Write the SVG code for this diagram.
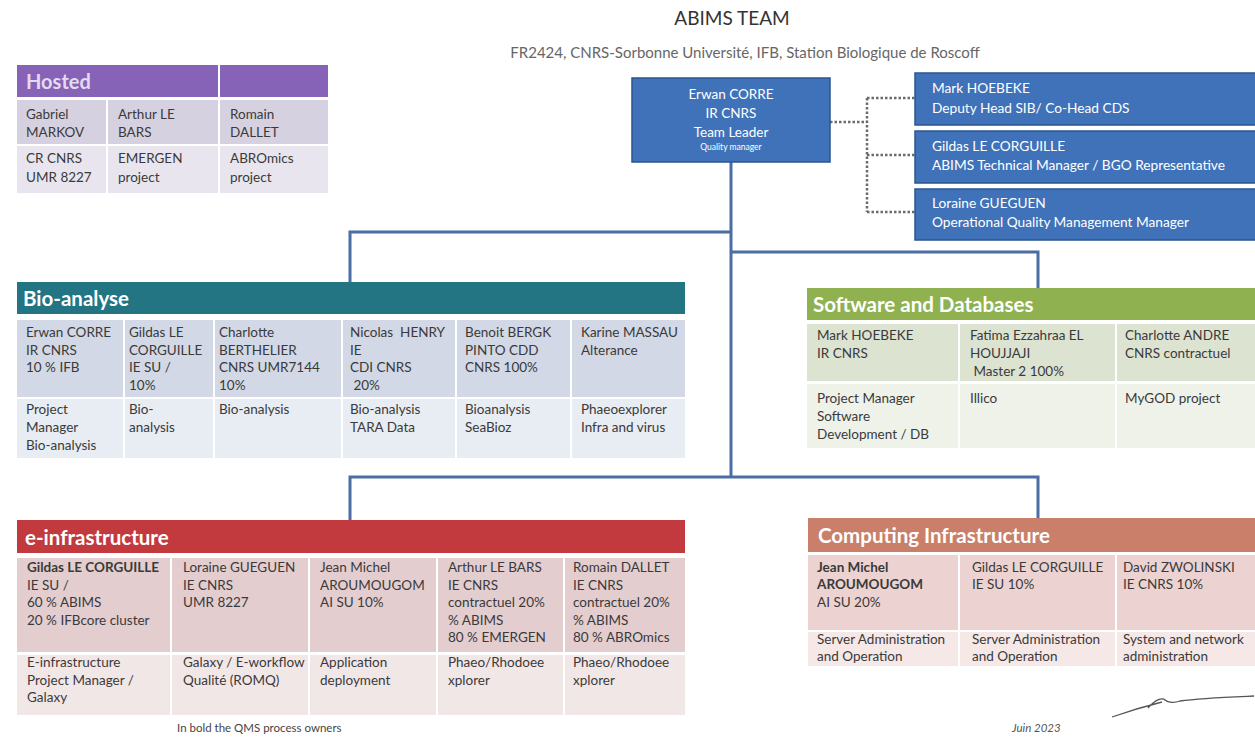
<svg xmlns="http://www.w3.org/2000/svg" width="1255" height="737" viewBox="0 0 1255 737">
<style>
text{font-family:Lato,"Liberation Sans",sans-serif;fill:#3a3a3a;font-size:13.5px}
.b{font-weight:bold}
.hd{font-weight:bold;font-size:20.5px;fill:#ffffff}
.bx{fill:#ffffff;font-size:13.7px}
.box{fill:#3f72b8;stroke:#2b5590;stroke-width:1.5}
.conn{fill:none;stroke:#4a6da6;stroke-width:3}
.dot{fill:none;stroke:#6b6b6b;stroke-width:2.5;stroke-dasharray:2.5 2}
.hr1{fill:#d6d1e0}.hr2{fill:#e9e5ef}
.br1{fill:#d2d8e5}.br2{fill:#e8ecf3}
.sr1{fill:#dce3d1}.sr2{fill:#eef2e9}
.er1{fill:#e4cdcf}.er2{fill:#f2e7e7}
.cr1{fill:#ecd3d1}.cr2{fill:#f5e8e7}
</style>

<g id="title">
<text x="732" y="25" text-anchor="middle" style="font-size:19px;fill:#333">ABIMS TEAM</text>
<text x="745" y="58" text-anchor="middle" style="font-size:15px;fill:#666">FR2424, CNRS-Sorbonne Université, IFB, Station Biologique de Roscoff</text>
</g>

<g id="connectors">
<path class="conn" d="M731 162 V477"/>
<path class="conn" d="M350 282 V232 H731"/>
<path class="conn" d="M731 252 H1038 V288"/>
<path class="conn" d="M350 520 V477 H1038 V518"/>
<path class="dot" d="M830 122 H867"/>
<path class="dot" d="M867 98 V212"/>
<path class="dot" d="M867 98 H915 M867 155 H915 M867 212 H915"/>
</g>

<g id="erwan">
<rect class="box" x="632" y="78" width="198" height="84"/>
<text class="bx" x="731" y="99" text-anchor="middle" style="font-size:13.5px">Erwan CORRE</text>
<text class="bx" x="731" y="118" text-anchor="middle" style="font-size:13.5px">IR CNRS</text>
<text class="bx" x="731" y="137" text-anchor="middle" style="font-size:13.5px">Team Leader</text>
<text class="bx" x="731" y="150" text-anchor="middle" style="font-size:8.5px">Quality manager</text>
</g>

<g id="mark">
<rect class="box" x="915" y="73" width="345" height="52"/>
<text class="bx" x="932" y="93">Mark HOEBEKE</text>
<text class="bx" x="932" y="113">Deputy Head SIB/ Co-Head CDS</text>
</g>
<g id="gildas-top">
<rect class="box" x="915" y="131" width="345" height="52"/>
<text class="bx" x="932" y="151">Gildas LE CORGUILLE</text>
<text class="bx" x="932" y="170">ABIMS Technical Manager / BGO Representative</text>
</g>
<g id="loraine-top">
<rect class="box" x="915" y="189" width="345" height="51"/>
<text class="bx" x="932" y="208">Loraine GUEGUEN</text>
<text class="bx" x="932" y="227">Operational Quality Management Manager</text>
</g>

<g id="hosted">
<rect x="17" y="65" width="201" height="32" fill="#8663b6"/>
<rect x="220" y="65" width="108" height="32" fill="#8663b6"/>
<text class="hd" x="26" y="89" style="fill:#e3dbef;font-size:20px">Hosted</text>
<rect class="hr1" x="17" y="100" width="89" height="44"/>
<rect class="hr1" x="108" y="100" width="110" height="44"/>
<rect class="hr1" x="220" y="100" width="108" height="44"/>
<rect class="hr2" x="17" y="146" width="89" height="47"/>
<rect class="hr2" x="108" y="146" width="110" height="47"/>
<rect class="hr2" x="220" y="146" width="108" height="47"/>
<text x="26" y="119">Gabriel</text><text x="26" y="137">MARKOV</text>
<text x="26" y="163">CR CNRS</text><text x="26" y="182">UMR 8227</text>
<text x="118" y="119">Arthur LE</text><text x="118" y="137">BARS</text>
<text x="118" y="163">EMERGEN</text><text x="118" y="182">project</text>
<text x="230" y="119">Romain</text><text x="230" y="137">DALLET</text>
<text x="230" y="163">ABROmics</text><text x="230" y="182">project</text>
</g>

<g id="bio-analyse">
<rect x="17" y="282" width="668" height="32" fill="#237583"/>
<text class="hd" x="23" y="306">Bio-analyse</text>
<rect class="br1" x="17" y="320" width="106" height="77"/>
<rect class="br1" x="125" y="320" width="88" height="77"/>
<rect class="br1" x="215" y="320" width="126" height="77"/>
<rect class="br1" x="343" y="320" width="112" height="77"/>
<rect class="br1" x="457" y="320" width="113" height="77"/>
<rect class="br1" x="572" y="320" width="113" height="77"/>
<rect class="br2" x="17" y="399" width="106" height="59"/>
<rect class="br2" x="125" y="399" width="88" height="59"/>
<rect class="br2" x="215" y="399" width="126" height="59"/>
<rect class="br2" x="343" y="399" width="112" height="59"/>
<rect class="br2" x="457" y="399" width="113" height="59"/>
<rect class="br2" x="572" y="399" width="113" height="59"/>
<text x="26" y="337">Erwan CORRE</text><text x="26" y="354.5">IR CNRS</text><text x="26" y="372">10 % IFB</text>
<text x="26" y="414">Project</text><text x="26" y="432">Manager</text><text x="26" y="450">Bio-analysis</text>
<text x="129" y="337">Gildas LE</text><text x="129" y="354.5">CORGUILLE</text><text x="129" y="372">IE SU /</text><text x="129" y="389.5">10%</text>
<text x="129" y="414">Bio-</text><text x="129" y="432">analysis</text>
<text x="219" y="337">Charlotte</text><text x="219" y="354.5">BERTHELIER</text><text x="219" y="372">CNRS UMR7144</text><text x="219" y="389.5">10%</text>
<text x="219" y="414">Bio-analysis</text>
<text x="350" y="337" xml:space="preserve">Nicolas  HENRY</text><text x="350" y="354.5">IE</text><text x="350" y="372">CDI CNRS</text><text x="350" y="389.5" xml:space="preserve"> 20%</text>
<text x="350" y="414">Bio-analysis</text><text x="350" y="432">TARA Data</text>
<text x="465" y="337">Benoit BERGK</text><text x="465" y="354.5">PINTO CDD</text><text x="465" y="372">CNRS 100%</text>
<text x="465" y="414">Bioanalysis</text><text x="465" y="432">SeaBioz</text>
<text x="581" y="337">Karine MASSAU</text><text x="581" y="354.5">Alterance</text>
<text x="581" y="414">Phaeoexplorer</text><text x="581" y="432">Infra and virus</text>
</g>

<g id="software">
<rect x="807" y="288" width="448" height="32" fill="#8fb14f"/>
<text class="hd" x="813" y="312">Software and Databases</text>
<rect class="sr1" x="807" y="324" width="151" height="57"/>
<rect class="sr1" x="960" y="324" width="155" height="57"/>
<rect class="sr1" x="1117" y="324" width="138" height="57"/>
<rect class="sr2" x="807" y="384" width="151" height="64"/>
<rect class="sr2" x="960" y="384" width="155" height="64"/>
<rect class="sr2" x="1117" y="384" width="138" height="64"/>
<text x="817" y="340">Mark HOEBEKE</text><text x="817" y="358">IR CNRS</text>
<text x="817" y="403">Project Manager</text><text x="817" y="421">Software</text><text x="817" y="439">Development / DB</text>
<text x="970" y="340">Fatima Ezzahraa EL</text><text x="970" y="358">HOUJJAJI</text><text x="970" y="376" xml:space="preserve"> Master 2 100%</text>
<text x="970" y="403">Illico</text>
<text x="1125" y="340">Charlotte ANDRE</text><text x="1125" y="358">CNRS contractuel</text>
<text x="1125" y="403">MyGOD project</text>
</g>

<g id="e-infrastructure">
<rect x="17" y="520" width="668" height="33" fill="#c23a3d"/>
<text class="hd" x="25" y="545">e-infrastructure</text>
<rect class="er1" x="17" y="558" width="153" height="94"/>
<rect class="er1" x="172" y="558" width="136" height="94"/>
<rect class="er1" x="310" y="558" width="126" height="94"/>
<rect class="er1" x="438" y="558" width="125" height="94"/>
<rect class="er1" x="565" y="558" width="120" height="94"/>
<rect class="er2" x="17" y="655" width="153" height="60"/>
<rect class="er2" x="172" y="655" width="136" height="60"/>
<rect class="er2" x="310" y="655" width="126" height="60"/>
<rect class="er2" x="438" y="655" width="125" height="60"/>
<rect class="er2" x="565" y="655" width="120" height="60"/>
<text class="b" x="27" y="572">Gildas LE CORGUILLE</text><text x="27" y="589.5">IE SU /</text><text x="27" y="607">60 % ABIMS</text><text x="27" y="624.5">20 % IFBcore cluster</text>
<text x="27" y="667">E-infrastructure</text><text x="27" y="684.5">Project Manager /</text><text x="27" y="702">Galaxy</text>
<text x="183" y="572">Loraine GUEGUEN</text><text x="183" y="589.5">IE CNRS</text><text x="183" y="607">UMR 8227</text>
<text x="183" y="667">Galaxy / E-workflow</text><text x="183" y="684.5">Qualité (ROMQ)</text>
<text x="320" y="572">Jean Michel</text><text x="320" y="589.5">AROUMOUGOM</text><text x="320" y="607">AI SU 10%</text>
<text x="320" y="667">Application</text><text x="320" y="684.5">deployment</text>
<text x="448" y="572">Arthur LE BARS</text><text x="448" y="589.5">IE CNRS</text><text x="448" y="607">contractuel 20%</text><text x="448" y="624.5">% ABIMS</text><text x="448" y="642">80 % EMERGEN</text>
<text x="448" y="667">Phaeo/Rhodoee</text><text x="448" y="684.5">xplorer</text>
<text x="573" y="572">Romain DALLET</text><text x="573" y="589.5">IE CNRS</text><text x="573" y="607">contractuel 20%</text><text x="573" y="624.5">% ABIMS</text><text x="573" y="642">80 % ABROmics</text>
<text x="573" y="667">Phaeo/Rhodoee</text><text x="573" y="684.5">xplorer</text>
</g>

<g id="computing">
<rect x="808" y="518" width="447" height="34" fill="#c97f6a"/>
<text class="hd" x="818" y="543">Computing Infrastructure</text>
<rect class="cr1" x="808" y="555" width="150" height="75"/>
<rect class="cr1" x="960" y="555" width="155" height="75"/>
<rect class="cr1" x="1117" y="555" width="138" height="75"/>
<rect class="cr2" x="808" y="632" width="150" height="34"/>
<rect class="cr2" x="960" y="632" width="155" height="34"/>
<rect class="cr2" x="1117" y="632" width="138" height="34"/>
<text class="b" x="817" y="572">Jean Michel</text><text class="b" x="817" y="589">AROUMOUGOM</text><text x="817" y="607">AI SU 20%</text>
<text x="817" y="644">Server Administration</text><text x="817" y="661">and Operation</text>
<text x="972" y="572">Gildas LE CORGUILLE</text><text x="972" y="589">IE SU 10%</text>
<text x="972" y="644">Server Administration</text><text x="972" y="661">and Operation</text>
<text x="1123" y="572">David ZWOLINSKI</text><text x="1123" y="589">IE CNRS 10%</text>
<text x="1123" y="644">System and network</text><text x="1123" y="661">administration</text>
</g>

<g id="footer">
<text x="177" y="732" style="font-size:11.5px;fill:#444">In bold the QMS process owners</text>
<text x="1012" y="732" style="font-size:11.5px;fill:#555;font-style:italic">Juin 2023</text>
<path d="M1112 717 C1135 709 1150 705 1162 702 M1148 708 C1155 700 1162 697 1165 700 C1168 703 1175 703 1180 701 C1200 698 1230 697 1254 696" fill="none" stroke="#555" stroke-width="1.3"/>
</g>
</svg>
